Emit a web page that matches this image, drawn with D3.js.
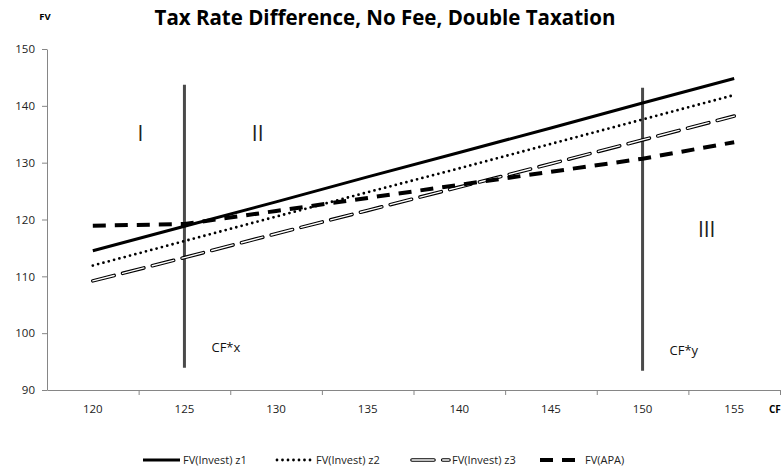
<!DOCTYPE html>
<html>
<head>
<meta charset="utf-8">
<script src="https://cdn.jsdelivr.net/npm/d3@7"></script>
<style>
  body { margin: 0; background: #fff; }
  svg text { font-family: "Open Sans", "Liberation Sans", sans-serif; }
</style>
</head>
<body>
<div id="chart"></div>
<script>
// Donnees
const cf = [120, 125, 130, 135, 140, 145, 150, 155];
const investZ1 = [114.5, 118.8, 123.1, 127.5, 131.8, 136.1, 140.5, 144.8];
const investZ2 = [111.9, 116.2, 120.5, 124.8, 129.0, 133.3, 137.6, 141.9];
const investZ3 = [109.2, 113.3, 117.5, 121.6, 125.7, 129.8, 134.0, 138.2];
const apa = [118.9, 119.2, 121.5, 123.8, 126.1, 128.4, 130.7, 133.6];
const yTicks = [90, 100, 110, 120, 130, 140, 150];
const cfLines = [{cf: 125, y0: 93.9, y1: 143.7, label: "CF*x"},
                 {cf: 150, y0: 93.4, y1: 143.2, label: "CF*y"}];
const zones = [{label: "I", cf: 122.6, fv: 133.8},
               {label: "II", cf: 129.0, fv: 133.8},
               {label: "III", cf: 153.5, fv: 116.9}];

const W = 783, H = 472;
const svg = d3.select("#chart").append("svg")
    .attr("width", W).attr("height", H);

const x = d3.scaleLinear().domain([117.5, 157.5]).range([47, 780]);
const y = d3.scaleLinear().domain([90, 150]).range([390, 49]);

// Titre
svg.append("text")
    .attr("x", 385).attr("y", 25)
    .attr("text-anchor", "middle")
    .style("font-size", "20.5px").style("font-weight", "bold")
    .text("Tax Rate Difference, No Fee, Double Taxation");

// Axe Y
const yAxis = svg.append("g")
    .attr("transform", `translate(${x(117.5)},0)`)
    .call(d3.axisLeft(y).tickValues(yTicks).tickSize(5).tickSizeOuter(0).tickPadding(7));
yAxis.select(".domain").attr("stroke", "#868686");
yAxis.selectAll(".tick line").attr("stroke", "#868686");
yAxis.selectAll(".tick text").style("font-size", "11.5px").attr("fill", "#222");

// Axe X : ticks entre les labels
const xAxis = svg.append("g")
    .attr("transform", `translate(0,${y(90)})`)
    .call(d3.axisBottom(x).tickValues(d3.range(122.5, 158, 5)).tickSize(5).tickSizeOuter(0).tickFormat(""));
xAxis.select(".domain").attr("stroke", "#868686");
xAxis.selectAll(".tick line").attr("stroke", "#868686");
svg.append("g").selectAll("text")
    .data(cf).join("text")
    .attr("x", d => x(d)).attr("y", 413)
    .attr("text-anchor", "middle")
    .style("font-size", "11.5px").attr("fill", "#222")
    .text(d => d);

svg.append("text").attr("x", 45).attr("y", 20)
    .attr("text-anchor", "middle")
    .style("font-size", "9.5px").style("font-weight", "bold").text("FV");
svg.append("text").attr("x", 769).attr("y", 413)
    .style("font-size", "10px").style("font-weight", "bold").text("CF");

// Lignes verticales CF*x et CF*y
svg.selectAll(".cfline").data(cfLines).join("line")
    .attr("x1", d => x(d.cf)).attr("x2", d => x(d.cf))
    .attr("y1", d => y(d.y0)).attr("y2", d => y(d.y1))
    .attr("stroke", "#4a4a4a").attr("stroke-width", 3);
svg.selectAll(".cflabel").data(cfLines).join("text")
    .attr("x", d => x(d.cf) + 27).attr("y", d => y(d.y0) - 16)
    .style("font-size", "13px").attr("fill", "#111")
    .text(d => d.label);

svg.selectAll(".zone").data(zones).join("text")
    .attr("x", d => x(d.cf)).attr("y", d => y(d.fv))
    .attr("text-anchor", "middle")
    .style("font-size", "21px").attr("fill", "#222")
    .text(d => d.label);

// Series
const line = vals => d3.line().x((d, i) => x(cf[i])).y(d => y(d))(vals);

const series = [
  {name: "FV(Invest) z1", vals: investZ1, style: "solid"},
  {name: "FV(Invest) z2", vals: investZ2, style: "dot"},
  {name: "FV(Invest) z3", vals: investZ3, style: "double"},
  {name: "FV(APA)", vals: apa, style: "dash"}
];

function drawStyled(g, d, s) {
  if (s === "solid") {
    g.append("path").attr("d", d).attr("fill", "none").attr("stroke", "#000").attr("stroke-width", 3);
  } else if (s === "dot") {
    g.append("path").attr("d", d).attr("fill", "none").attr("stroke", "#000").attr("stroke-width", 2.8)
      .attr("stroke-linecap", "round").attr("stroke-dasharray", "0 5.5");
  } else if (s === "double") {
    g.append("path").attr("d", d).attr("fill", "none").attr("stroke", "#000").attr("stroke-width", 3.6)
      .attr("stroke-dasharray", "22 8.7").attr("stroke-linecap", "round");
    g.append("path").attr("d", d).attr("fill", "none").attr("stroke", "#fff").attr("stroke-width", 1.4)
      .attr("stroke-dasharray", "22 8.7").attr("stroke-linecap", "round");
  } else {
    g.append("path").attr("d", d).attr("fill", "none").attr("stroke", "#000").attr("stroke-width", 4)
      .attr("stroke-dasharray", "13 9");
  }
}

// z3 et APA dessines d'abord, puis z2, puis z1
[series[2], series[3], series[1], series[0]].forEach(s => {
  drawStyled(svg.append("g"), line(s.vals), s.style);
});

// Legende
const legendX = [143, 277, 412, 540];
const legendW = [37, 36, 37, 42];
series.forEach((s, i) => {
  const g = svg.append("g");
  const ly = 460;
  drawStyled(g, `M${legendX[i]},${ly}L${legendX[i] + legendW[i]},${ly}`, s.style);
  g.append("text").attr("x", legendX[i] + legendW[i] + 3).attr("y", ly + 4)
    .style("font-size", "11px").attr("fill", "#222").text(s.name);
});
</script>
</body>
</html>
